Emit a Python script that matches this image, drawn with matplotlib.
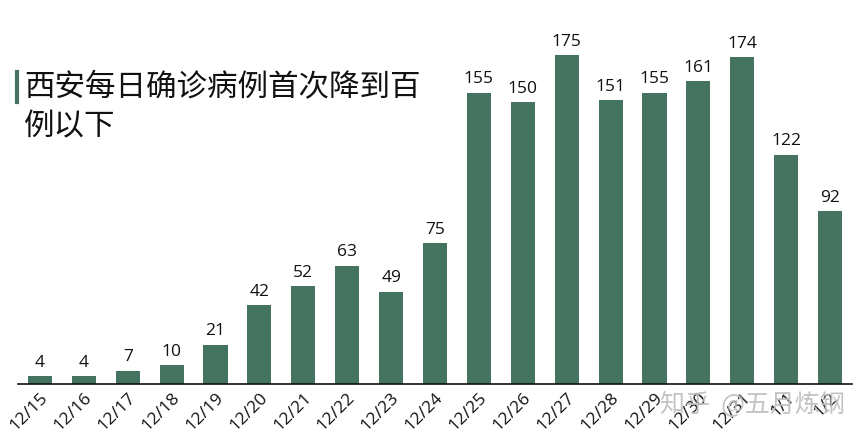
import matplotlib
matplotlib.use("Agg")
import matplotlib.pyplot as plt

plt.rcParams['font.family'] = ['Open Sans', 'Noto Sans CJK SC', 'DejaVu Sans']

dates = ['12/15', '12/16', '12/17', '12/18', '12/19', '12/20', '12/21', '12/22',
         '12/23', '12/24', '12/25', '12/26', '12/27', '12/28', '12/29', '12/30',
         '12/31', '1/1', '1/2']
cases = [4, 4, 7, 10, 21, 42, 52, 63, 49, 75, 155, 150, 175, 151, 155, 161, 174, 122, 92]
title = '西安每日确诊病例首次降到百\n例以下'

bar_color = '#44735f'

fig = plt.figure(figsize=(8.65, 4.34), dpi=100)
ax = fig.add_axes([18 / 865, 50 / 434, 834 / 865, 357 / 434])

x = list(range(len(cases)))
bars = ax.bar(x, cases, width=0.55, color=bar_color)
for xi, v in zip(x, cases):
    ax.annotate(str(v), (xi, v), xytext=(0, 4), textcoords='offset points',
                ha='center', va='bottom', fontsize=12.5, color='#111111')

ax.set_xlim(-0.5, len(cases) - 0.5)
ax.set_ylim(0, 190)
ax.set_xticks(x)
ax.set_xticklabels(dates, rotation=45, ha='right', rotation_mode='anchor',
                   fontsize=12.5, color='#111111')
ax.tick_params(axis='x', length=0, pad=4)
ax.set_yticks([])
for side in ['top', 'right', 'left']:
    ax.spines[side].set_visible(False)
ax.spines['bottom'].set_color('#111111')
ax.spines['bottom'].set_linewidth(1.2)

# title with green marker bar
fig.text(24 / 865, 1 - 72 / 434, title, fontsize=22, va='top', ha='left',
         family=['Noto Sans CJK SC', 'DejaVu Sans'], color='#111111', linespacing=1.35)
fig.add_artist(plt.Line2D([17 / 865, 17 / 865], [1 - 72 / 434, 1 - 102 / 434],
                          color=bar_color, lw=3))

# watermark
fig.text(845 / 865, 1 - 405 / 434, '知乎  @五月炼钢', fontsize=18, ha='right', va='center',
         family=['Noto Sans CJK SC', 'DejaVu Sans'], color='#bdbdbd', alpha=0.9)

fig.savefig('out.png', dpi=100, facecolor='white')
